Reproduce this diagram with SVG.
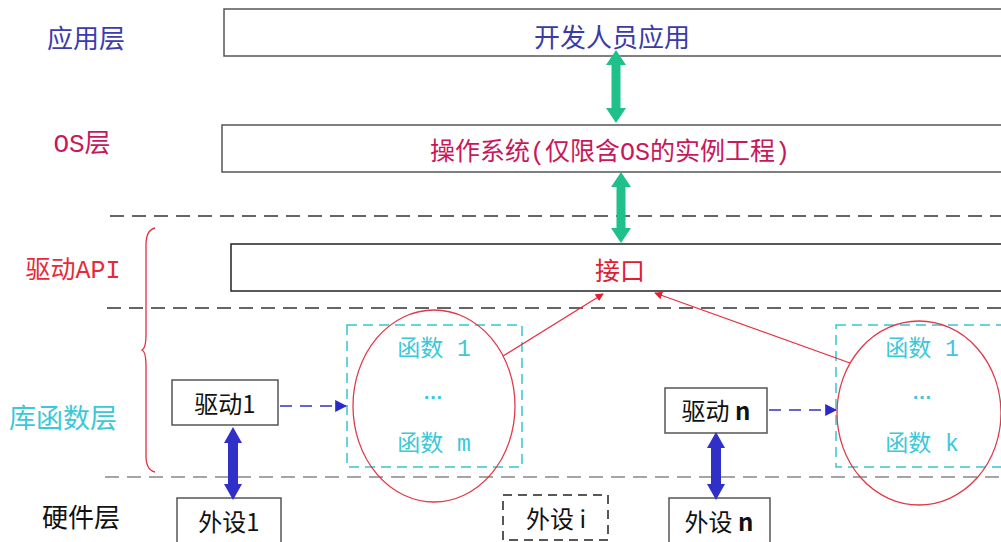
<svg xmlns="http://www.w3.org/2000/svg" width="1001" height="542" viewBox="0 0 1001 542">
<style>
text{font-family:"Noto Sans CJK SC","Liberation Sans",sans-serif;dominant-baseline:central;text-anchor:middle}
.mono{font-family:"Liberation Mono","Noto Sans CJK SC",monospace}
.box{fill:#fff;stroke:#555;stroke-width:1.5}
.dl{stroke:#333;stroke-width:1.5;stroke-dasharray:14 8;fill:none}
.cy{fill:none;stroke:#35c6d2;stroke-width:1.5;stroke-dasharray:10 6}
.el{fill:none;stroke:#e03a4a;stroke-width:1.3}
.fn{fill:#3cc8d8;font-size:23px;font-family:"Liberation Mono","Noto Sans CJK SC",monospace}
.dots{fill:#3cc8d8;font-size:20px;font-weight:bold;font-family:"Liberation Sans",sans-serif}
.blk{fill:#111;font-size:24px}
.rl{stroke:#e83040;stroke-width:1.3;fill:none;marker-end:url(#rh)}
.bd{stroke:#3434b8;stroke-width:1.5;stroke-dasharray:12 8;fill:none;marker-end:url(#bh)}
</style>
<defs>
<marker id="rh" viewBox="0 0 10 10" refX="9" refY="5" markerWidth="8" markerHeight="8" markerUnits="userSpaceOnUse" orient="auto"><path d="M0,0L10,5L0,10z" fill="#e02030"/></marker>
<marker id="bh" viewBox="0 0 10 10" refX="9" refY="5" markerWidth="12" markerHeight="12" markerUnits="userSpaceOnUse" orient="auto"><path d="M0,0L10,5L0,10z" fill="#2a2acc"/></marker>
</defs>
<rect width="1001" height="542" fill="#fff"/>
<g id="labels">
<text x="86" y="36" style="fill:#3c3cb0;font-size:26px">应用层</text>
<text class="mono" x="82" y="145" style="fill:#c8185a;font-size:26px">OS层</text>
<text class="mono" x="73" y="271" style="fill:#e82a38;font-size:25px">驱动API</text>
<text x="63" y="416" style="fill:#3cc8d8;font-size:27px">库函数层</text>
<text x="81" y="515" style="fill:#111;font-size:26px">硬件层</text>
</g>
<g id="dividers">
<line class="dl" x1="110" y1="216" x2="1001" y2="216"/>
<line class="dl" x1="107" y1="308" x2="1001" y2="308"/>
<line class="dl" x1="105" y1="477" x2="1001" y2="477" style="stroke:#888"/>
<path d="M155,228 Q146,230 146,245 L146,335 Q146,348 142,350 Q146,352 146,365 L146,456 Q146,470 155,472" fill="none" stroke="#e03040" stroke-width="1.3"/>
</g>
<g id="app">
<rect class="box" x="224" y="9" width="790" height="47"/>
<text x="612" y="35" style="fill:#3b3ba8;font-size:26px">开发人员应用</text>
</g>
<g id="os">
<rect class="box" x="222" y="125" width="790" height="47"/>
<text class="mono" x="610" y="153" style="fill:#c8185a;font-size:25px">操作系统(仅限含OS的实例工程)</text>
</g>
<g id="api">
<rect class="box" x="231" y="244" width="790" height="47" style="stroke:#222"/>
<text x="620" y="269" style="fill:#e02030;font-size:25px">接口</text>
</g>
<g id="lib1">
<rect class="cy" x="347" y="325" width="175" height="142"/>
<ellipse class="el" cx="434" cy="406" rx="81" ry="96"/>
<text class="fn" x="434" y="350">函数 1</text>
<text class="dots" x="433" y="392">…</text>
<text class="fn" x="434" y="445">函数 m</text>
</g>
<g id="lib2">
<rect class="cy" x="836" y="325" width="180" height="142"/>
<ellipse class="el" cx="919" cy="413" rx="82" ry="92"/>
<text class="fn" x="922" y="350">函数 1</text>
<text class="dots" x="922" y="392">…</text>
<text class="fn" x="922" y="445">函数 k</text>
</g>
<g id="drv1">
<rect class="box" x="172" y="380" width="106" height="45"/>
<text class="blk" x="225" y="402">驱动1</text>
</g>
<g id="drvn">
<rect class="box" x="665" y="388" width="102" height="45"/>
<text class="blk" x="716" y="409">驱动 <tspan font-weight="bold">n</tspan></text>
</g>
<g id="dev1">
<rect class="box" x="177" y="498" width="104" height="50"/>
<text class="blk" x="229" y="520">外设1</text>
</g>
<g id="devi">
<rect x="503" y="495" width="105" height="45" fill="#fff" stroke="#222" stroke-width="1.5" stroke-dasharray="9 6"/>
<text class="blk" x="556" y="517">外设 i</text>
</g>
<g id="devn">
<rect class="box" x="669" y="498" width="101" height="50"/>
<text class="blk" x="719" y="520">外设 <tspan font-weight="bold">n</tspan></text>
</g>
<g id="connectors">
<path d="M616,50 L626,65 L620.5,65 L620.5,108 L626,108 L616,123 L606,108 L611.5,108 L611.5,65 L606,65 Z" fill="#1fc08a"/>
<path d="M621,172 L631,187 L625.5,187 L625.5,228 L631,228 L621,243 L611,228 L616.5,228 L616.5,187 L611,187 Z" fill="#1fc08a"/>
<path d="M233,427 L242,443 L238,443 L238,484 L242,484 L233,500 L224,484 L228,484 L228,443 L224,443 Z" fill="#3030c8"/>
<path d="M716,432 L725,448 L721,448 L721,484 L725,484 L716,500 L707,484 L711,484 L711,448 L707,448 Z" fill="#3030c8"/>
<line class="rl" x1="503" y1="356" x2="603" y2="294"/>
<line class="rl" x1="850" y1="363" x2="655" y2="293"/>
<line class="bd" x1="280" y1="406" x2="346" y2="406"/>
<line class="bd" x1="769" y1="410" x2="836" y2="410"/>
</g>
</svg>
